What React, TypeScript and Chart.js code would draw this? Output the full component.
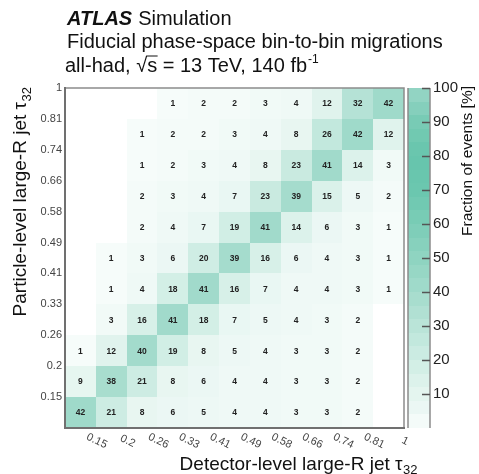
import React, { useEffect, useRef } from "react";
import { Chart, registerables } from "chart.js";

Chart.register(...registerables);

// Upper edges of the τ32 bins (same binning on both axes)
const binEdges = ["0.15", "0.2", "0.26", "0.33", "0.41", "0.49", "0.58", "0.66", "0.74", "0.81", "1"];

// Fraction of events [%] per particle-level bin (rows, lowest τ32 first),
// split over the detector-level bins (columns). null = no entry.
const rowBin01 = [42, 21, 8, 6, 5, 4, 4, 3, 3, 2, null];
const rowBin02 = [9, 38, 21, 8, 6, 4, 4, 3, 3, 2, null];
const rowBin03 = [1, 12, 40, 19, 8, 5, 4, 3, 3, 2, null];
const rowBin04 = [null, 3, 16, 41, 18, 7, 5, 4, 3, 2, null];
const rowBin05 = [null, 1, 4, 18, 41, 16, 7, 4, 4, 3, 1];
const rowBin06 = [null, 1, 3, 6, 20, 39, 16, 6, 4, 3, 1];
const rowBin07 = [null, null, 2, 4, 7, 19, 41, 14, 6, 3, 1];
const rowBin08 = [null, null, 2, 3, 4, 7, 23, 39, 15, 5, 2];
const rowBin09 = [null, null, 1, 2, 3, 4, 8, 23, 41, 14, 3];
const rowBin10 = [null, null, 1, 2, 2, 3, 4, 8, 26, 42, 12];
const rowBin11 = [null, null, null, 1, 2, 2, 3, 4, 12, 32, 42];

const migrationRows = [
  rowBin01, rowBin02, rowBin03, rowBin04, rowBin05, rowBin06,
  rowBin07, rowBin08, rowBin09, rowBin10, rowBin11,
];

const FONT = "'Liberation Sans', Arial, Helvetica, sans-serif";

// Colour map for the z axis (percent -> rgb)
const colourStops: [number, number[]][] = [
  [0, [248, 253, 251]],
  [5, [237, 248, 245]],
  [10, [228, 245, 239]],
  [20, [207, 237, 228]],
  [30, [186, 228, 216]],
  [40, [163, 219, 204]],
  [50, [143, 212, 193]],
  [60, [123, 205, 183]],
  [70, [107, 199, 175]],
  [80, [102, 197, 172]],
  [90, [120, 203, 181]],
  [100, [152, 214, 198]],
];

function fractionColour(v: number): string {
  const val = Math.max(0, Math.min(100, v));
  for (let i = 1; i < colourStops.length; i++) {
    const [v1, c1] = colourStops[i];
    const [v0, c0] = colourStops[i - 1];
    if (val <= v1) {
      const t = (val - v0) / (v1 - v0);
      const c = c0.map((a, k) => Math.round(a + (c1[k] - a) * t));
      return `rgb(${c[0]},${c[1]},${c[2]})`;
    }
  }
  const c = colourStops[colourStops.length - 1][1];
  return `rgb(${c[0]},${c[1]},${c[2]})`;
}

type Cell = { x: number; y: number; v: number };

function buildCells(): Cell[] {
  const cells: Cell[] = [];
  migrationRows.forEach((row, r) => {
    row.forEach((v, c) => {
      if (v !== null && v !== undefined) cells.push({ x: c + 0.5, y: r + 0.5, v });
    });
  });
  return cells;
}

const migrationPlugin = {
  id: "tau32Migrations",
  beforeDatasetsDraw(chart: any) {
    const { ctx } = chart;
    const xs = chart.scales.x;
    const ys = chart.scales.y;
    const cells = chart.data.datasets[0].data as Cell[];
    ctx.save();
    for (const c of cells) {
      const l = Math.round(xs.getPixelForValue(c.x - 0.5));
      const r = Math.round(xs.getPixelForValue(c.x + 0.5));
      const t = Math.round(ys.getPixelForValue(c.y + 0.5));
      const b = Math.round(ys.getPixelForValue(c.y - 0.5));
      ctx.fillStyle = fractionColour(c.v);
      ctx.fillRect(l, t, r - l, b - t);
    }
    ctx.fillStyle = "#222";
    ctx.font = `bold 8.5px ${FONT}`;
    ctx.textAlign = "center";
    ctx.textBaseline = "middle";
    for (const c of cells) {
      ctx.fillText(String(c.v), xs.getPixelForValue(c.x), ys.getPixelForValue(c.y) + 0.5);
    }
    ctx.restore();
  },
  afterDraw(chart: any) {
    const { ctx, chartArea } = chart;
    const xs = chart.scales.x;
    const zs = chart.scales.z;
    const { left, right, top, bottom } = chartArea;
    ctx.save();

    // frame
    ctx.strokeStyle = "#8c8c8c";
    ctx.lineWidth = 1.5;
    ctx.beginPath();
    ctx.moveTo(left, top);
    ctx.lineTo(right, top);
    ctx.lineTo(right, bottom);
    ctx.stroke();
    ctx.strokeStyle = "#707070";
    ctx.lineWidth = 2;
    ctx.beginPath();
    ctx.moveTo(left, top - 1);
    ctx.lineTo(left, bottom);
    ctx.lineTo(right + 1, bottom);
    ctx.stroke();

    // rotated x tick labels at the bin edges
    ctx.fillStyle = "#444";
    ctx.font = `11px ${FONT}`;
    ctx.textAlign = "center";
    ctx.textBaseline = "middle";
    binEdges.forEach((lab, i) => {
      const px = xs.getPixelForValue(i + 1);
      ctx.save();
      ctx.translate(px + 1, bottom + 13);
      ctx.rotate(0.45);
      ctx.fillText(lab, 0, 0);
      ctx.restore();
    });

    // colour bar
    const cbL = right + 4;
    const cbR = right + 26;
    const nBands = 25;
    for (let k = 0; k < nBands; k++) {
      const v0 = (k * 100) / nBands;
      const v1 = ((k + 1) * 100) / nBands;
      const y0 = Math.round(zs.getPixelForValue(v1));
      const y1 = Math.round(zs.getPixelForValue(v0));
      ctx.fillStyle = fractionColour((v0 + v1) / 2);
      ctx.fillRect(cbL, y0, cbR - cbL, y1 - y0);
    }
    ctx.strokeStyle = "#8c8c8c";
    ctx.lineWidth = 1.5;
    ctx.beginPath();
    ctx.moveTo(cbL, top);
    ctx.lineTo(cbL, bottom);
    ctx.moveTo(cbR, top);
    ctx.lineTo(cbR, bottom);
    ctx.stroke();
    ctx.strokeStyle = "#555";
    ctx.lineWidth = 1.5;
    ctx.beginPath();
    for (const t of zs.ticks) {
      if (t.value <= 0) continue;
      const py = Math.round(zs.getPixelForValue(t.value)) + 0.5;
      ctx.moveTo(cbR - 8, py);
      ctx.lineTo(cbR, py);
    }
    ctx.stroke();

    // header text
    ctx.fillStyle = "#111";
    ctx.textAlign = "left";
    ctx.textBaseline = "alphabetic";
    ctx.font = `italic bold 20px ${FONT}`;
    ctx.fillText("ATLAS", 67, 25);
    const aw = ctx.measureText("ATLAS").width;
    ctx.font = `20px ${FONT}`;
    ctx.fillText("Simulation", 67 + aw + 6, 25);
    ctx.fillText("Fiducial phase-space bin-to-bin migrations", 67, 48);
    let cx = 65;
    const base3 = 72;
    ctx.fillText("all-had, ", cx, base3);
    cx += ctx.measureText("all-had, ").width;
    ctx.fillText("\u221A", cx, base3);
    const rw = ctx.measureText("\u221A").width;
    ctx.fillText("s", cx + rw, base3);
    const sw = ctx.measureText("s").width;
    ctx.strokeStyle = "#111";
    ctx.lineWidth = 1;
    ctx.beginPath();
    ctx.moveTo(cx + rw - 1, base3 - 16);
    ctx.lineTo(cx + rw + sw + 0.5, base3 - 16);
    ctx.stroke();
    cx += rw + sw;
    ctx.fillText(" = 13 TeV, 140 fb", cx, base3);
    cx += ctx.measureText(" = 13 TeV, 140 fb").width;
    ctx.font = `12px ${FONT}`;
    ctx.fillText("-1", cx + 1, base3 - 9);

    // x axis title
    const xMain = "Detector-level large-R jet \u03C4";
    ctx.font = `19px ${FONT}`;
    const xmw = ctx.measureText(xMain).width;
    ctx.font = `13px ${FONT}`;
    const xsw = ctx.measureText("32").width;
    const xStart = right + 13 - xsw - xmw;
    ctx.font = `19px ${FONT}`;
    ctx.fillText(xMain, xStart, 470);
    ctx.font = `13px ${FONT}`;
    ctx.fillText("32", xStart + xmw + 0.5, 474);

    // y axis title
    const yMain = "Particle-level large-R jet \u03C4";
    ctx.font = `19px ${FONT}`;
    const ymw = ctx.measureText(yMain).width;
    ctx.font = `13px ${FONT}`;
    const ysw = ctx.measureText("32").width;
    const yEnd = top - 1;
    ctx.save();
    ctx.translate(26, 0);
    ctx.rotate(-Math.PI / 2);
    const yStart = -(yEnd + ymw + ysw + 0.5);
    ctx.font = `19px ${FONT}`;
    ctx.fillText(yMain, yStart, 0);
    ctx.font = `13px ${FONT}`;
    ctx.fillText("32", yStart + ymw + 0.5, 4.5);
    ctx.restore();

    // colour bar title
    const zTitle = "Fraction of events [%]";
    ctx.save();
    ctx.translate(472, 0);
    ctx.rotate(-Math.PI / 2);
    ctx.font = `15.5px ${FONT}`;
    const zw = ctx.measureText(zTitle).width;
    ctx.fillText(zTitle, -(top - 2 + zw), 0);
    ctx.restore();

    ctx.restore();
  },
};

export default function App() {
  const canvasRef = useRef<HTMLCanvasElement | null>(null);

  useEffect(() => {
    if (!canvasRef.current) return;
    Chart.defaults.font.family = FONT;
    const chart = new Chart(canvasRef.current, {
      type: "scatter",
      data: {
        datasets: [
          {
            label: "migrations",
            data: buildCells() as any,
            pointRadius: 0,
            pointHoverRadius: 0,
          },
        ],
      },
      options: {
        animation: false,
        responsive: true,
        maintainAspectRatio: false,
        devicePixelRatio: 1,
        events: [],
        layout: { padding: { top: 88, left: 0, right: 0, bottom: 0 } },
        plugins: {
          legend: { display: false },
          tooltip: { enabled: false },
          title: { display: false },
        },
        scales: {
          x: {
            type: "linear",
            min: 0,
            max: binEdges.length,
            grid: { display: false, drawTicks: false },
            border: { display: false },
            ticks: { display: false, stepSize: 1 },
            afterFit: (s: any) => {
              s.height = 46;
            },
          },
          y: {
            type: "linear",
            min: 0,
            max: binEdges.length,
            position: "left",
            grid: { display: false, drawTicks: false },
            border: { display: false },
            ticks: {
              stepSize: 1,
              autoSkip: false,
              padding: 3,
              color: "#444",
              font: { size: 11, family: FONT },
              callback: (v: any) => (v >= 1 ? binEdges[Math.round(v) - 1] : ""),
            },
            afterFit: (s: any) => {
              s.width = 65;
            },
          },
          z: {
            type: "linear",
            min: 0,
            max: 100,
            position: "right",
            grid: { display: false, drawTicks: false },
            border: { display: false },
            ticks: {
              stepSize: 10,
              autoSkip: false,
              padding: 29,
              color: "#222",
              font: { size: 15, family: FONT },
              callback: (v: any) => (v > 0 ? String(v) : ""),
            },
            afterFit: (s: any) => {
              s.width = 75;
            },
          },
        },
      },
      plugins: [migrationPlugin],
    });
    return () => chart.destroy();
  }, []);

  return (
    <div style={{ position: "fixed", left: 0, top: 0, width: 479, height: 474, background: "#fff" }}>
      <canvas ref={canvasRef} />
    </div>
  );
}
